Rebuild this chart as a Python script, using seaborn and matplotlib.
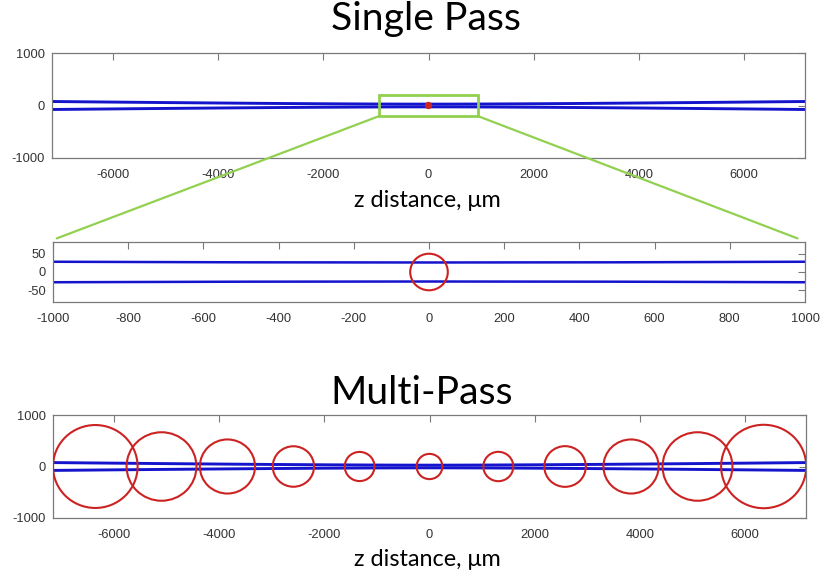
import numpy as np
import pandas as pd
import matplotlib
matplotlib.use("Agg")
import matplotlib.pyplot as plt
import seaborn as sns
from matplotlib.patches import Circle, Rectangle, ConnectionPatch

# Beam envelope: half-width (um) along the propagation axis z (um)
z_pos = [-7165, -6000, -5000, -4000, -3000, -2000, -1000, -500, 0,
         500, 1000, 2000, 3000, 4000, 5000, 6000, 7165]
beam_radius = [76, 65, 56, 47.5, 39.5, 33, 28, 26.5, 26,
               26.5, 28, 33, 39.5, 47.5, 56, 65, 76]

# Focal spot of the single-pass configuration
spot_center = [0]
spot_radius = [50]

# Spot on each pass of the multi-pass configuration
pass_centers = [-6360, -5100, -3845, -2590, -1330, 0, 1310, 2580, 3835, 5100, 6360]
pass_radii = [805, 665, 525, 393, 283, 245, 285, 395, 525, 665, 810]

# Axis ranges and ticks
wide_xlim = [-7165, 7165]
wide_ylim = [-1000, 1000]
wide_xticks = [-6000, -4000, -2000, 0, 2000, 4000, 6000]
wide_yticks = [-1000, 0, 1000]
zoom_xlim = [-1000, 1000]
zoom_ylim = [-82, 82]
zoom_xticks = [-1000, -800, -600, -400, -200, 0, 200, 400, 600, 800, 1000]
zoom_yticks = [-50, 0, 50]

# Region of the single-pass plot shown enlarged
zoom_box_x = [-935, 935]
zoom_box_y = [-200, 200]

titles = ["Single Pass", "Multi-Pass"]
xlabel = "z distance, \u03bcm"

BLUE = "#1414cc"
RED = "#cc2222"
GREEN = "#92d050"
FRAME = "#7a7a7a"
TICKTXT = "#333333"

sns.set_theme(style="white")
plt.rcParams["axes.unicode_minus"] = False
plt.rcParams["font.family"] = ["Liberation Sans", "DejaVu Sans"]

beam = pd.concat([
    pd.DataFrame({"z": z_pos, "r": beam_radius, "edge": "upper"}),
    pd.DataFrame({"z": z_pos, "r": [-v for v in beam_radius], "edge": "lower"}),
])

W, H = 822, 575
fig = plt.figure(figsize=(W / 100, H / 100), dpi=100)


def px_axes(left, top, right, bottom):
    return fig.add_axes([left / W, 1 - bottom / H, (right - left) / W, (bottom - top) / H])


ax_top = px_axes(52, 53, 805, 158)
ax_mid = px_axes(53, 242, 805, 302)
ax_bot = px_axes(53, 415, 806, 518)


def style(ax, xlim, ylim, xticks, yticks):
    ax.set_xlim(xlim)
    ax.set_ylim(ylim)
    ax.set_xticks(xticks)
    ax.set_yticks(yticks)
    ax.set_xlabel("")
    ax.set_ylabel("")
    for s in ax.spines.values():
        s.set_visible(True)
        s.set_color(FRAME)
        s.set_linewidth(0.9)
    ax.tick_params(direction="in", top=True, right=True, length=5, width=0.8,
                   color=FRAME, labelcolor=TICKTXT, labelsize=9.3,
                   labeltop=False, labelright=False)
    ax.tick_params(axis="x", pad=8)
    ax.tick_params(axis="y", pad=5)


def draw_beam(ax, data, lw):
    sns.lineplot(data=data, x="z", y="r", units="edge", estimator=None,
                 color=BLUE, lw=lw, ax=ax, legend=False, sort=False)


# Single pass, full range
draw_beam(ax_top, beam, 2.1)
for c, r in zip(spot_center, spot_radius):
    ax_top.add_patch(Circle((c, 0), r, fill=True, facecolor=RED, edgecolor=RED, lw=1.5, zorder=4))
style(ax_top, wide_xlim, wide_ylim, wide_xticks, wide_yticks)
ax_top.add_patch(Rectangle((zoom_box_x[0], zoom_box_y[0]), zoom_box_x[1] - zoom_box_x[0],
                           zoom_box_y[1] - zoom_box_y[0], fill=False, edgecolor=GREEN,
                           lw=2.0, zorder=5, clip_on=False))

# Single pass, enlarged around the focus
near = beam[(beam["z"] >= zoom_xlim[0]) & (beam["z"] <= zoom_xlim[1])]
draw_beam(ax_mid, near, 1.8)
for c, r in zip(spot_center, spot_radius):
    ax_mid.add_patch(Circle((c, 0), r, fill=False, edgecolor=RED, lw=1.5, zorder=4))
style(ax_mid, zoom_xlim, zoom_ylim, zoom_xticks, zoom_yticks)

# Multi pass
draw_beam(ax_bot, beam, 2.1)
for c, r in zip(pass_centers, pass_radii):
    ax_bot.add_patch(Circle((c, 0), r, fill=False, edgecolor=RED, lw=1.5, zorder=4))
style(ax_bot, wide_xlim, wide_ylim, wide_xticks, wide_yticks)

# Lines joining the zoom box to the enlarged plot
for xb, xf in [(zoom_box_x[0], 0.005), (zoom_box_x[1], 0.99)]:
    con = ConnectionPatch(xyA=(xb, zoom_box_y[0]), coordsA=ax_top.transData,
                          xyB=(xf, 1.06), coordsB=ax_mid.transAxes,
                          color=GREEN, lw=1.6)
    fig.add_artist(con)

label_font = ["Lato", "DejaVu Sans"]
fig.text(426 / W, 1 - 30 / H, titles[0], ha="center", va="baseline", fontsize=28.2,
         family=label_font, color="black")
fig.text(427 / W, 1 - 207 / H, xlabel, ha="center", va="baseline", fontsize=16.8,
         family=label_font, color="black")
fig.text(422 / W, 1 - 404 / H, titles[1], ha="center", va="baseline", fontsize=28.2,
         family=label_font, color="black")
fig.text(427 / W, 1 - 566 / H, xlabel, ha="center", va="baseline", fontsize=16.8,
         family=label_font, color="black")

fig.savefig("out.png", dpi=100, facecolor="white")
